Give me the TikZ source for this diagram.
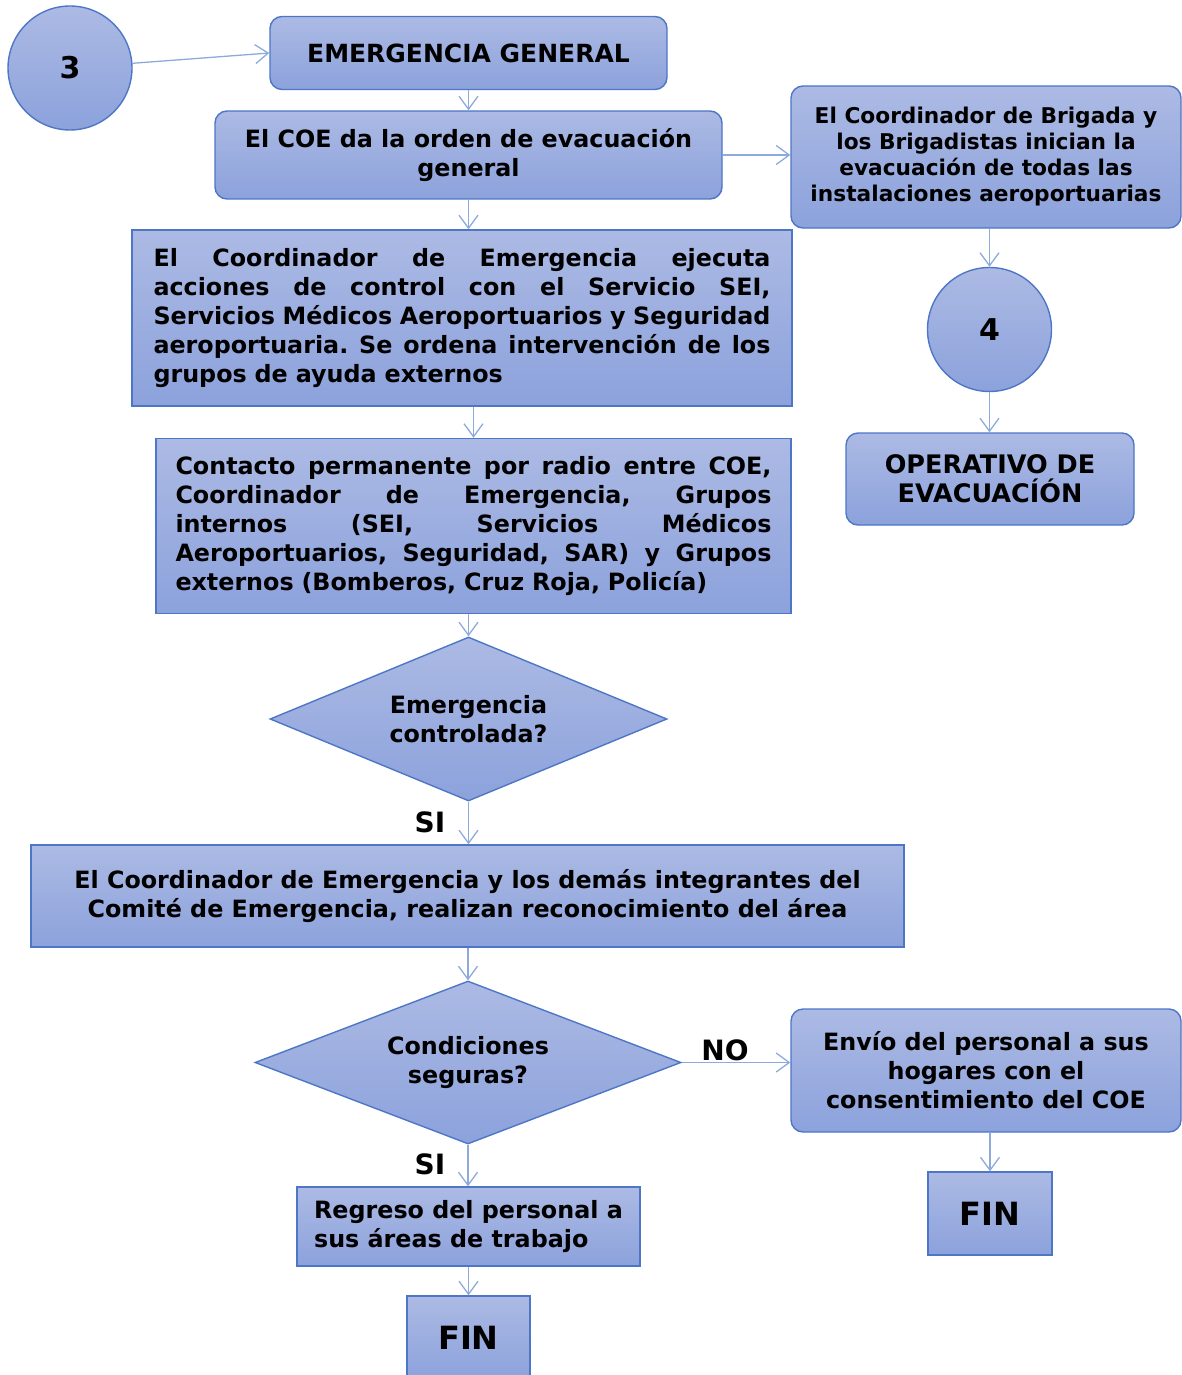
\documentclass[tikz,border=0pt]{standalone}
\usepackage{fontspec}
\setmainfont{DejaVu Sans}
\usetikzlibrary{shapes.geometric,arrows.meta}
\definecolor{ftop}{RGB}{172,186,228}
\definecolor{fbot}{RGB}{140,162,220}
\definecolor{bord}{RGB}{78,118,198}
\definecolor{arr}{RGB}{140,170,220}
\newcommand\jl[2]{\leavevmode\hbox to #1{\spaceskip=.34em plus 1fil minus .1em\xspaceskip=\spaceskip #2}}
\tikzset{
  txt/.style={font=\fontsize{23.8}{29}\selectfont\bfseries\frenchspacing, text=black},
  fillg/.style={top color=ftop, bottom color=fbot, draw=bord, line width=1.4pt, txt},
  rbox/.style={fillg, rounded corners=12pt, align=center, inner sep=0pt},
  sbox/.style={fillg, align=center, inner sep=0pt},
  dbox/.style={fillg, shape=diamond, align=center, inner sep=0pt},
  cbox/.style={fillg, shape=circle, inner sep=0pt, font=\fontsize{30}{34}\selectfont\bfseries},
  lab/.style={font=\fontsize{28}{32}\selectfont\bfseries, text=black, inner sep=0pt},
  conn/.style={draw=arr, line width=1.3pt, -{Straight Barb[length=13pt,width=19pt]}},
}
\begin{document}
\begin{tikzpicture}[x=1pt,y=-1pt]
\useasboundingbox (0,0) rectangle (1182,1375);
% nodes
\node[cbox, minimum size=124pt] (c3) at (70,68) {3};
\node[rbox, minimum width=397pt, minimum height=73pt, font=\fontsize{25}{29}\selectfont\bfseries] (eg) at (468.5,53) {EMERGENCIA GENERAL};
\node[rbox, minimum width=507pt, minimum height=88pt] (coe) at (468.5,155) {El COE da la orden de evacuación\\general};
\node[rbox, minimum width=390pt, minimum height=142pt, font=\fontsize{21.7}{26}\selectfont\bfseries] (brig) at (986,157) {El Coordinador de Brigada y\\los Brigadistas inician la\\evacuación de todas las\\instalaciones aeroportuarias};
\node[sbox, minimum width=660pt, minimum height=176pt, text width=617pt, align=left] (big) at (462,318) {%
\jl{617pt}{El Coordinador de Emergencia ejecuta}\\
\jl{617pt}{acciones de control con el Servicio SEI,}\\
\jl{617pt}{Servicios Médicos Aeroportuarios y Seguridad}\\
\jl{617pt}{aeroportuaria. Se ordena intervención de los}\\
grupos de ayuda externos};
\node[cbox, minimum size=124pt] (c4) at (989.5,329.5) {4};
\node[rbox, minimum width=288pt, minimum height=92pt, font=\fontsize{25.5}{29}\selectfont\bfseries] (oper) at (990,479) {OPERATIVO DE\\EVACUACÍÓN};
\node[sbox, minimum width=635pt, minimum height=175pt, text width=596pt, align=left] (cont) at (473.5,526) {%
\jl{596pt}{Contacto permanente por radio entre COE,}\\
\jl{596pt}{Coordinador de Emergencia, Grupos}\\
\jl{596pt}{internos (SEI, Servicios Médicos}\\
\jl{596pt}{Aeroportuarios, Seguridad, SAR) y Grupos}\\
externos (Bomberos, Cruz Roja, Policía)};
\node[dbox, aspect=2.42, minimum width=397pt, minimum height=164pt] (d1) at (468.5,719) {Emergencia\\controlada?};
\node[sbox, minimum width=873pt, minimum height=102pt] (wide) at (467.5,896) {El Coordinador de Emergencia y los demás integrantes del\\Comité de Emergencia, realizan reconocimiento del área};
\node[dbox, aspect=2.61, minimum width=426pt, minimum height=163pt] (d2) at (468,1062.5) {Condiciones\\seguras?};
\node[rbox, minimum width=390pt, minimum height=123pt] (envio) at (986,1070.5) {Envío del personal a sus\\hogares con el\\consentimiento del COE};
\node[sbox, minimum width=343pt, minimum height=79pt, align=left] (regr) at (468.5,1226.5) {Regreso del personal a\\sus áreas de trabajo};
\node[sbox, minimum width=123pt, minimum height=84pt, font=\fontsize{32}{36}\selectfont\bfseries] (fin1) at (468.5,1338) {FIN};
\node[sbox, minimum width=124pt, minimum height=83pt, font=\fontsize{32}{36}\selectfont\bfseries] (fin2) at (990,1213.5) {FIN};
% labels
\node[lab] (si1) at (430,822) {SI};
\node[lab] (si2) at (430,1164) {SI};
\node[lab] (no) at (725,1050) {NO};
% connectors
\draw[conn] (c3) -- (eg.west);
\draw[conn] (eg.south) -- (coe.north);
\draw[conn] (coe.east) -- (coe.east -| brig.west);
\draw[conn] (coe.south) -- (coe.south |- big.north);
\draw[conn] (big.south -| cont.north) -- (cont.north);
\draw[conn] (cont.south -| d1.north) -- (d1.north);
\draw[conn] (d1.south) -- (d1.south |- wide.north);
\draw[conn] (wide.south -| d2.north) -- (d2.north);
\draw[conn] (d2.east) -- (d2.east -| envio.west);
\draw[conn] (d2.south) -- (d2.south |- regr.north);
\draw[conn] (regr.south -| fin1.north) -- (fin1.north);
\draw[conn] (brig.south -| c4.north) -- (c4.north);
\draw[conn] (c4.south) -- (c4.south |- oper.north);
\draw[conn] (envio.south -| fin2.north) -- (fin2.north);
\end{tikzpicture}
\end{document}
